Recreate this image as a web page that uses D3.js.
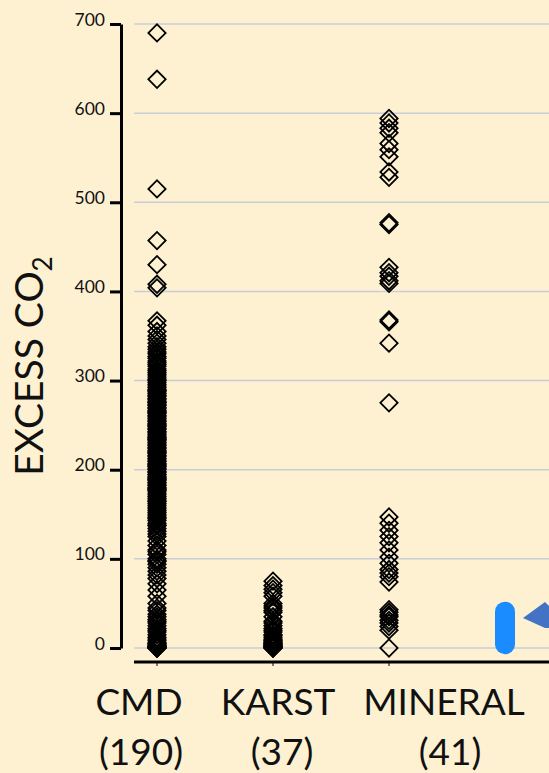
<!DOCTYPE html>
<html><head><meta charset="utf-8">
<script src="https://cdn.jsdelivr.net/npm/d3@7"></script>
<style>html,body{margin:0;padding:0;background:#fef1d2;} svg{display:block}</style>
</head><body><svg id="c" width="549" height="773"></svg>
<script>
// ---------------- DATA ----------------
const categories = ["CMD", "KARST", "MINERAL", "HIGHLIGHT"];
const categoryLabels = ["CMD", "KARST", "MINERAL"];
const countLabels = ["(190)", "(37)", "(41)"];
const yTicks = [0, 100, 200, 300, 400, 500, 600, 700];

const cmdValues = [
  690, 638, 515, 457, 430, 408, 404,
  367, 362, 355, 350, 346, 342, 338, 335,
  332, 330, 327, 325, 322, 320, 318, 316, 313, 311, 309, 307, 305, 303, 301, 300, 298, 296, 294, 292,
  290, 289, 288, 286, 285, 283, 282, 280, 279, 277,
  276, 275, 273, 272, 270, 269, 267, 266, 264, 263,
  261, 260, 258, 257, 255, 254, 252, 251, 249, 248,
  246, 245, 243, 242, 240, 239, 237, 236, 234, 233,
  231, 230, 228, 227, 225, 224, 222, 221, 219, 218,
  216, 215, 213, 212, 210, 209, 207, 206, 204, 203,
  201, 200, 198, 197, 195, 194, 192, 191, 189, 188,
  186, 185, 183, 182, 180, 179, 177, 176, 174, 172,
  170, 168, 166, 164, 162, 160, 158, 156, 154, 152,
  150, 148, 146, 143, 140, 137, 134, 131, 128, 125,
  275, 265, 250, 235, 220, 205, 190, 178, 165, 145, 138, 108, 98, 30, 20,
  120, 115, 110, 105, 100, 97, 94, 90, 86, 82,
  78, 72, 65, 58, 50, 45, 42, 38, 35, 32,
  28, 25, 22, 18, 15, 12, 10, 8, 6, 5,
  4, 3, 2, 2, 1, 1, 0, 0, 0, 0
];
const karstValues = [
  75, 70, 66, 62, 58, 50, 47, 45, 42, 40,
  35, 30, 28, 25, 22, 20, 18, 15, 14, 12,
  10, 9, 8, 7, 6, 5, 5, 4, 3, 3,
  2, 2, 1, 1, 0, 0, 0
];
const mineralValues = [
  594, 589, 583, 578, 566, 559, 551, 534, 528,
  477, 475,
  427, 421, 417, 412, 409,
  368, 366, 342,
  275,
  147, 140, 132, 125, 118, 110, 102, 95, 88, 84, 80, 74,
  43, 40, 37, 35, 31, 28, 24, 20,
  0
];
const highlightRange = [-7, 52];

// ---------------- LAYOUT ----------------
const W = 549, H = 773;
const svg = d3.select("#c");
svg.append("rect").attr("width", W).attr("height", H).attr("fill", "#fef1d2");

const y = d3.scaleLinear().domain([0, 700]).range([648, 24]);
const x = d3.scalePoint().domain(categories).range([157, 505]);
const FONT = "Lato, 'Open Sans', sans-serif";

// gridlines
svg.append("g").selectAll("line").data(yTicks).join("line")
  .attr("x1", 134).attr("x2", W)
  .attr("y1", d => y(d)).attr("y2", d => y(d))
  .attr("stroke", "#c9cdd8").attr("stroke-width", 1.5);

// y axis
const yAxis = svg.append("g").attr("transform", "translate(121,0)")
  .call(d3.axisLeft(y).tickValues(yTicks).tickSize(11).tickSizeOuter(0).tickPadding(5).tickFormat(d3.format("d")));
yAxis.select(".domain").attr("stroke", "#000").attr("stroke-width", 3);
yAxis.selectAll(".tick line").attr("stroke", "#000").attr("stroke-width", 3);
yAxis.selectAll(".tick text").attr("font-family", FONT).attr("font-size", 17.5)
  .attr("fill", "#111").attr("dy", "0.06em");

// x axis line
svg.append("line").attr("x1", 134).attr("x2", W).attr("y1", 662).attr("y2", 662)
  .attr("stroke", "#000").attr("stroke-width", 3);
svg.append("g").selectAll("line").data(categories.slice(0, 3)).join("line")
  .attr("x1", d => x(d)).attr("x2", d => x(d)).attr("y1", 662).attr("y2", 666)
  .attr("stroke", "#000").attr("stroke-width", 1);

// diamonds
const series = [
  {cat: "CMD", vals: cmdValues},
  {cat: "KARST", vals: karstValues},
  {cat: "MINERAL", vals: mineralValues}
];
const sym = d3.symbol().type(d3.symbolSquare).size(150);
series.forEach(s => {
  svg.append("g").selectAll("path").data(s.vals).join("path")
    .attr("d", sym)
    .attr("transform", d => `translate(${x(s.cat)},${y(d)}) rotate(45)`)
    .attr("fill", "none").attr("stroke", "#000").attr("stroke-width", 1.8);
});

// highlight marker
const hx = x("HIGHLIGHT");
svg.append("rect")
  .attr("x", hx - 10).attr("width", 20)
  .attr("y", y(highlightRange[1])).attr("height", y(highlightRange[0]) - y(highlightRange[1]))
  .attr("rx", 10).attr("ry", 10).attr("fill", "#1a8cff");

// arrow
svg.append("polygon")
  .attr("points", "523,618 545,602 549,606 549,628 545,628")
  .attr("fill", "#4472c4");

// y title
const yt = svg.append("text")
  .attr("transform", "translate(43,366) rotate(-90)")
  .attr("text-anchor", "middle")
  .attr("font-family", FONT).attr("font-size", 39).attr("fill", "#111");
yt.append("tspan").text("EXCESS CO");
yt.append("tspan").text("2").attr("font-size", 26).attr("dy", 9);

// category labels
const labelX1 = [139, 278, 444];
const labelX2 = [141, 282, 450];
svg.append("g").selectAll("text").data(categoryLabels).join("text")
  .attr("x", (d, i) => labelX1[i]).attr("y", 715)
  .attr("text-anchor", "middle").attr("font-family", FONT).attr("font-size", 37)
  .attr("fill", "#111").text(d => d);
svg.append("g").selectAll("text").data(countLabels).join("text")
  .attr("x", (d, i) => labelX2[i]).attr("y", 765)
  .attr("text-anchor", "middle").attr("font-family", FONT).attr("font-size", 37)
  .attr("fill", "#111").text(d => d);
</script>
</body></html>
